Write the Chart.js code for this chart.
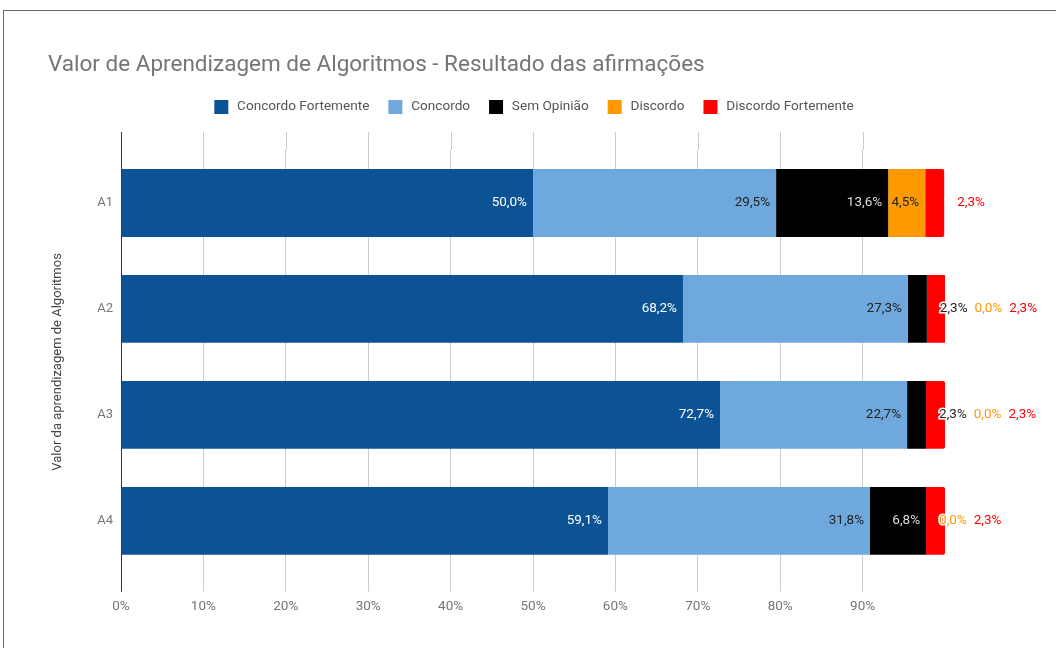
<!DOCTYPE html>
<html>
<head>
<meta charset="utf-8">
<script src="https://cdn.jsdelivr.net/npm/chart.js@4"></script>
<style>
  body { margin: 0; background: #fff; }
  #wrap { position: relative; width: 1056px; height: 648px; }
  #frame { position: absolute; left: 3px; top: 10px; right: 0; bottom: 0; border-top: 1px solid #666; border-left: 1px solid #666; pointer-events: none; }
</style>
</head>
<body>
<div id="wrap">
  <canvas id="myChart"></canvas>
  <div id="frame"></div>
</div>
<script>
// Data
const categories = ['A1', 'A2', 'A3', 'A4'];
const seriesNames = ['Concordo Fortemente', 'Concordo', 'Sem Opinião', 'Discordo', 'Discordo Fortemente'];
const concordoFortemente = [50.0, 68.2, 72.7, 59.1];
const concordo = [29.5, 27.3, 22.7, 31.8];
const semOpiniao = [13.6, 2.3, 2.3, 6.8];
const discordo = [4.5, 0.0, 0.0, 0.0];
const discordoFortemente = [2.3, 2.3, 2.3, 2.3];
const xTickValues = [0, 10, 20, 30, 40, 50, 60, 70, 80, 90];

const colors = ['#0b5394', '#6fa8dc', '#000000', '#ff9900', '#ff0000'];
const insideText = ['#ffffff', '#222222', '#dddddd', '#222222', '#ffffff'];
const outsideText = ['#0b5394', '#6fa8dc', '#222222', '#ff9900', '#ff0000'];

const fmt = v => v.toFixed(1).replace('.', ',') + '%';

// bar value labels, Google-style: inside the end when they fit, else pushed out to the right
const barLabels = {
    id: 'barLabels',
    afterDatasetsDraw(chart) {
        const ctx = chart.ctx;
        ctx.save();
        ctx.font = '13.5px Roboto';
        ctx.textBaseline = 'middle';
        categories.forEach((c, i) => {
            let cursor = -Infinity;
            chart.data.datasets.forEach((ds, d) => {
                const bar = chart.getDatasetMeta(d).data[i];
                const { x, y, base } = bar.getProps(['x', 'y', 'base'], true);
                const text = fmt(ds.data[i]);
                const w = ctx.measureText(text).width;
                if (w + 8 <= x - base) {
                    ctx.textAlign = 'right';
                    ctx.fillStyle = insideText[d];
                    ctx.fillText(text, x - 6, y);
                } else {
                    const tx = Math.max(x + 13, cursor + 7);
                    ctx.textAlign = 'left';
                    ctx.lineWidth = 3;
                    ctx.strokeStyle = '#ffffff';
                    ctx.strokeText(text, tx, y);
                    ctx.fillStyle = outsideText[d];
                    ctx.fillText(text, tx, y);
                    cursor = tx + w;
                }
            });
        });
        ctx.restore();
    }
};

// gridlines in the reference run a bit above the bars
const gridTop = {
    id: 'gridTop',
    beforeDatasetsDraw(chart) {
        const ctx = chart.ctx;
        const xs = chart.scales.x;
        const top = chart.chartArea.top;
        ctx.save();
        ctx.lineWidth = 1;
        xTickValues.forEach(v => {
            const px = Math.round(xs.getPixelForValue(v)) + 0.5;
            ctx.strokeStyle = v === 0 ? '#333333' : '#cccccc';
            ctx.beginPath();
            ctx.moveTo(px, top - 18);
            ctx.lineTo(px, top);
            ctx.stroke();
        });
        ctx.restore();
    }
};

// extra room under the legend
const legendGap = {
    id: 'legendGap',
    beforeInit(chart) {
        const fit = chart.legend.fit;
        chart.legend.fit = function () {
            fit.call(this);
            this.height += 24;
        };
    }
};

document.addEventListener('DOMContentLoaded', () => {
    const ctx = document.getElementById('myChart').getContext('2d');
    const values = [concordoFortemente, concordo, semOpiniao, discordo, discordoFortemente];
    new Chart(ctx, {
        type: 'bar',
        data: {
            labels: categories,
            datasets: values.map((vals, d) => ({
                label: seriesNames[d],
                data: vals,
                backgroundColor: colors[d],
                borderWidth: 0,
                borderSkipped: false,
                borderRadius: d === 4 ? { topRight: 2, bottomRight: 2 } : 0,
                barPercentage: 0.64,
                categoryPercentage: 1
            }))
        },
        options: {
            indexAxis: 'y',
            responsive: true,
            maintainAspectRatio: false,
            animation: false,
            layout: { padding: { left: 48, right: 111, top: 52, bottom: 26 } },
            plugins: {
                title: {
                    display: true,
                    text: 'Valor de Aprendizagem de Algoritmos - Resultado das afirmações',
                    align: 'start',
                    color: '#757575',
                    font: { family: 'Roboto', size: 22.5, weight: 'normal' },
                    padding: { top: 0, bottom: 2 }
                },
                legend: {
                    position: 'top',
                    fullSize: false,
                    labels: {
                        color: '#555555',
                        font: { family: 'Roboto', size: 13.6 },
                        boxWidth: 18,
                        boxHeight: 18,
                        padding: 17,
                        generateLabels: chart => Chart.defaults.plugins.legend.labels.generateLabels(chart)
                            .map(l => Object.assign(l, { lineWidth: 4, strokeStyle: '#ffffff' }))
                    }
                },
                tooltip: { enabled: false }
            },
            scales: {
                x: {
                    stacked: true,
                    min: 0,
                    max: 100,
                    afterBuildTicks: scale => { scale.ticks = xTickValues.map(v => ({ value: v })); },
                    ticks: {
                        color: '#757575',
                        font: { family: 'Roboto', size: 13.5 },
                        padding: 7,
                        callback: v => v + '%'
                    },
                    grid: {
                        color: c => (c.tick && c.tick.value === 0 ? '#333333' : '#cccccc'),
                        tickLength: 18
                    },
                    border: { display: false }
                },
                y: {
                    stacked: true,
                    afterFit: scale => { scale.width = 73; },
                    ticks: {
                        color: '#757575',
                        font: { family: 'Roboto', size: 13 },
                        padding: 0
                    },
                    grid: { display: false },
                    border: { display: false },
                    title: {
                        display: true,
                        text: 'Valor da aprendizagem de Algoritmos',
                        color: '#444444',
                        font: { family: 'Roboto', size: 13 },
                        padding: { top: 2, bottom: 0 }
                    }
                }
            }
        },
        plugins: [barLabels, gridTop, legendGap]
    });
});
</script>
</body>
</html>
